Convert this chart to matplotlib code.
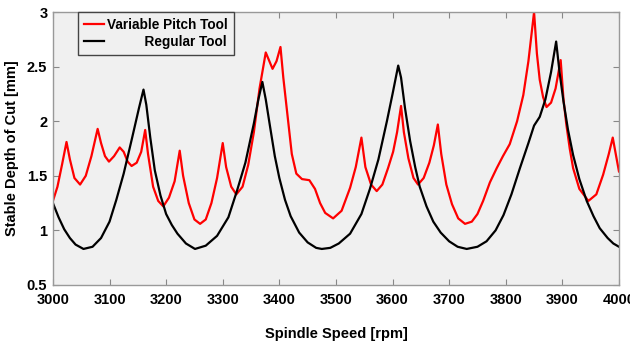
import matplotlib
matplotlib.use("Agg")
import matplotlib.pyplot as plt

# Regular tool (black)
reg_rpm = [3000, 3010, 3020, 3030, 3040, 3054, 3070, 3085, 3100, 3112, 3125, 3140, 3152, 3160,
           3165, 3172, 3180, 3190, 3200, 3210, 3220, 3235, 3251, 3270, 3290, 3310, 3325, 3340, 3355, 3363, 3370,
           3376, 3383, 3392, 3400, 3410, 3420, 3435, 3450, 3465, 3475, 3490, 3505, 3525, 3545, 3560, 3575, 3590, 3600, 3610,
           3615, 3622, 3631, 3640, 3648, 3660, 3672, 3685, 3700, 3715, 3731, 3750, 3766, 3782, 3796, 3810, 3825, 3840, 3850,
           3860, 3870, 3880, 3889,
           3895, 3902, 3910, 3919, 3930, 3943, 3955, 3966, 3980, 3990, 4000]
reg_doc = [1.25, 1.12, 1.01, 0.93, 0.87, 0.83, 0.85, 0.93, 1.08, 1.28, 1.52, 1.85, 2.12, 2.29,
           2.15, 1.85, 1.55, 1.32, 1.15, 1.05, 0.97, 0.88, 0.83, 0.86, 0.95, 1.12, 1.36, 1.62, 1.98, 2.20, 2.36,
           2.20, 1.97, 1.68, 1.48, 1.28, 1.13, 0.98, 0.89, 0.84, 0.83, 0.84, 0.88, 0.97, 1.15, 1.38, 1.65, 2.00, 2.25, 2.51,
           2.40, 2.12, 1.82, 1.58, 1.40, 1.22, 1.08, 0.98, 0.90, 0.85, 0.83, 0.85, 0.90, 1.00, 1.14, 1.33, 1.57, 1.80, 1.96,
           2.04, 2.20, 2.45, 2.73,
           2.45, 2.18, 1.92, 1.69, 1.47, 1.27, 1.13, 1.02, 0.93, 0.88, 0.85]

# Variable pitch tool (red)
var_rpm = [3000, 3008, 3016, 3024, 3030, 3038, 3048, 3058, 3068, 3079, 3085, 3092, 3099, 3108, 3118, 3125, 3132, 3139,
           3148, 3156, 3163, 3168, 3177, 3186, 3195, 3205, 3215, 3224, 3230, 3240, 3250, 3260, 3270, 3280, 3290, 3300,
           3306, 3315, 3324, 3335, 3345, 3355, 3365, 3376, 3388, 3395, 3402, 3407, 3413, 3422, 3430, 3440, 3453, 3463,
           3472, 3481, 3495, 3510, 3525, 3535, 3545, 3552, 3562, 3572, 3582, 3592, 3601, 3608, 3615, 3620, 3628, 3637,
           3645, 3655, 3665, 3673, 3680, 3686, 3695, 3705, 3716, 3728, 3740, 3750, 3760, 3772, 3784, 3795, 3807, 3820,
           3831, 3840, 3850, 3855, 3860, 3866, 3872, 3880, 3888, 3897, 3902, 3907, 3913, 3919, 3930, 3946, 3960, 3972,
           3982, 3989, 3995, 4000]
var_doc = [1.27, 1.40, 1.60, 1.81, 1.65, 1.48, 1.42, 1.50, 1.68, 1.93, 1.80, 1.68, 1.63, 1.68, 1.76, 1.72, 1.63, 1.59,
           1.62, 1.72, 1.92, 1.70, 1.40, 1.27, 1.22, 1.30, 1.45, 1.73, 1.50, 1.25, 1.10, 1.06, 1.10, 1.25, 1.48, 1.80,
           1.58, 1.40, 1.33, 1.40, 1.60, 1.90, 2.30, 2.63, 2.48, 2.55, 2.68, 2.40, 2.12, 1.70, 1.52, 1.47, 1.46, 1.38,
           1.25, 1.16, 1.11, 1.18, 1.39, 1.58, 1.85, 1.58, 1.42, 1.36, 1.42, 1.57, 1.72, 1.90, 2.14, 1.90, 1.66, 1.48,
           1.42, 1.48, 1.62, 1.78, 1.97, 1.70, 1.42, 1.24, 1.11, 1.06, 1.08, 1.15, 1.27, 1.44, 1.57, 1.68, 1.79, 2.00,
           2.24, 2.55, 3.00, 2.62, 2.38, 2.22, 2.13, 2.17, 2.30, 2.56, 2.20, 1.97, 1.75, 1.57, 1.38, 1.27, 1.33, 1.51,
           1.70, 1.85, 1.68, 1.54]

x_ticks = [3000, 3100, 3200, 3300, 3400, 3500, 3600, 3700, 3800, 3900, 4000]
y_ticks = [0.5, 1, 1.5, 2, 2.5, 3]
y_tick_labels = ["0.5", "1", "1.5", "2", "2.5", "3"]
series_labels = ["Variable Pitch Tool", "Regular Tool"]

plt.rcParams['font.family'] = ['Liberation Sans', 'DejaVu Sans']
plt.rcParams['font.weight'] = 'bold'

fig = plt.figure(figsize=(6.3, 3.45), dpi=100)
ax = fig.add_axes([0.084, 0.174, 0.8985, 0.791])
ax.set_facecolor('#f0f0f0')

ax.plot(var_rpm, var_doc, color='#ff0000', lw=1.6, label=series_labels[0])
ax.plot(reg_rpm, reg_doc, color='#000000', lw=1.6, label=series_labels[1])

ax.set_xlim(3000, 4000)
ax.set_ylim(0.5, 3)
ax.set_xticks(x_ticks)
ax.set_xticklabels([str(v) for v in x_ticks])
ax.set_yticks(y_ticks)
ax.set_yticklabels(y_tick_labels)
ax.tick_params(direction='in', length=4, width=0.8, color='#888888', top=True, right=True,
               labelsize=10.5)
ax.tick_params(axis='x', pad=6)
ax.tick_params(axis='y', pad=4)
for lab in ax.get_xticklabels() + ax.get_yticklabels():
    lab.set_fontweight('bold')
for s in ax.spines.values():
    s.set_color('#999999')
    s.set_linewidth(1.0)

ax.set_xlabel('Spindle Speed [rpm]', fontsize=10.5, fontweight='bold', labelpad=14)
ax.set_ylabel('Stable Depth of Cut [mm]', fontsize=10.5, fontweight='bold', labelpad=6)

leg = ax.legend(loc='upper left', bbox_to_anchor=(0.044, 1.0), borderaxespad=0.0, frameon=True,
                fancybox=False, edgecolor='#444444', facecolor='#f0f0f0', framealpha=1,
                handlelength=1.5, handletextpad=0.2, borderpad=0.45, labelspacing=0.2,
                prop={'weight': 'bold', 'size': 9.8})
leg.get_frame().set_linewidth(1.0)

# right-align legend labels (MATLAB style) by padding the shorter one with spaces
fig.canvas.draw()
renderer = fig.canvas.get_renderer()
texts = leg.get_texts()
target = max(t.get_window_extent(renderer).width for t in texts)
for t in texts:
    base = t.get_text()
    s = base
    while True:
        t.set_text(' ' + s)
        w = t.get_window_extent(renderer).width
        if w > target + 1.5:
            t.set_text(s)
            break
        s = ' ' + s

fig.savefig('out.png', dpi=100, facecolor='white')
